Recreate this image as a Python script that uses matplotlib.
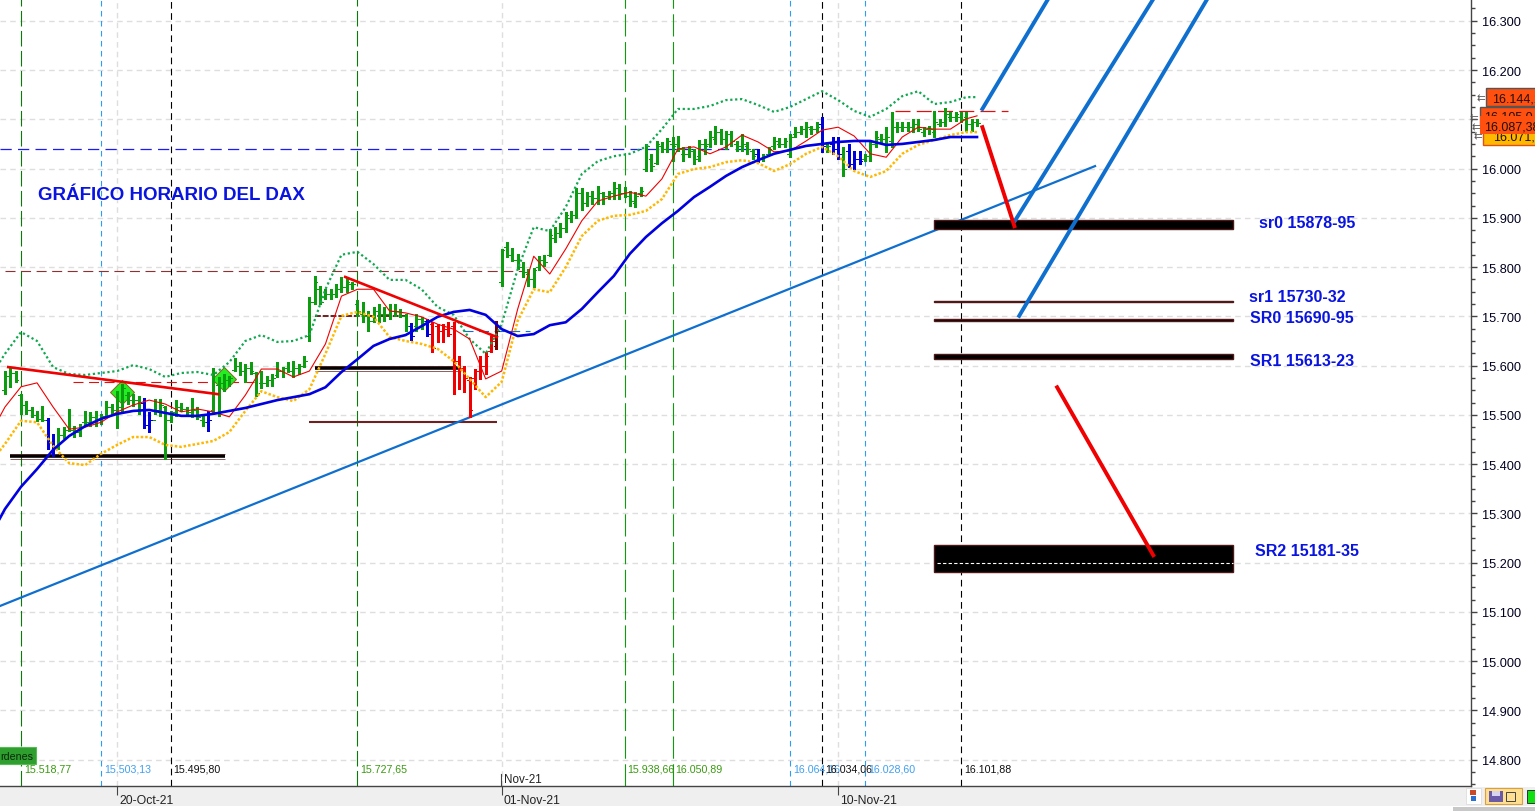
"""
DAX hourly chart with support / resistance zones
"""
import matplotlib
matplotlib.use("Agg")
import matplotlib.pyplot as plt
from matplotlib.patches import Rectangle
from matplotlib.ticker import FuncFormatter, MultipleLocator
from matplotlib.transforms import ScaledTranslation
import numpy as np

W, H_PX = 1535, 812

# hourly bars
high = [15589,15597,15589,15542,15528,15516,15508,15518,15493,15461,
        15473,15475,15512,15477,15481,15508,15506,15508,15502,15528,
        15522,15548,15562,15546,15542,15538,15534,15506,15532,15532,
        15518,15508,15530,15524,15516,15534,15516,15502,15508,15595,
        15577,15583,15579,15615,15607,15603,15607,15587,15589,15579,
        15583,15607,15597,15607,15609,15603,15619,15739,15782,15761,
        15755,15755,15765,15780,15780,15770,15733,15729,15711,15719,
        15725,15719,15725,15725,15715,15705,15686,15705,15698,15694,
        15688,15684,15684,15688,15688,15619,15599,15577,15593,15619,
        15627,15660,15690,15837,15851,15838,15826,15810,15796,15798,
        15822,15824,15877,15881,15889,15911,15913,15960,15960,15952,
        15954,15964,15952,15954,15972,15968,15962,15954,15952,15962,
        16050,16029,16056,16054,16062,16064,16066,16043,16046,16040,
        16058,16060,16076,16086,16080,16076,16076,16056,16070,16054,
        16040,16040,16029,16043,16064,16062,16062,16070,16084,16086,
        16094,16086,16094,16104,16054,16064,16064,16043,16050,16035,
        16035,16029,16054,16076,16070,16084,16115,16094,16094,16094,
        16100,16100,16084,16086,16117,16100,16123,16115,16115,16115,
        16115,16100,16100]
low = [15542,15556,15566,15502,15502,15495,15488,15488,15430,15416,
       15430,15453,15467,15455,15457,15479,15477,15477,15481,15495,
       15502,15473,15506,15522,15518,15502,15473,15465,15502,15498,
       15410,15485,15498,15508,15498,15495,15491,15477,15467,15502,
       15498,15548,15558,15589,15581,15566,15583,15538,15554,15558,
       15558,15577,15577,15587,15577,15583,15597,15650,15725,15725,
       15735,15735,15739,15749,15749,15755,15700,15688,15670,15688,
       15688,15690,15694,15700,15698,15670,15652,15670,15674,15660,
       15627,15648,15648,15660,15542,15552,15546,15495,15552,15573,
       15583,15627,15633,15761,15820,15812,15796,15780,15761,15759,
       15794,15802,15822,15851,15861,15871,15891,15899,15916,15924,
       15928,15928,15928,15938,15938,15938,15942,15924,15922,15944,
       15995,15995,16009,16033,16033,16015,16035,16015,16023,16009,
       16015,16029,16043,16050,16050,16040,16046,16035,16035,16029,
       16019,16013,16015,16029,16040,16043,16043,16023,16064,16070,
       16064,16070,16074,16033,16033,16029,16019,15985,16003,16000,
       16009,16015,16015,16043,16054,16033,16043,16074,16076,16076,
       16074,16076,16066,16070,16064,16086,16086,16096,16096,16094,
       16076,16076,16086]
opens = [15550,15578,15585,15540,15520,15510,15500,15492,15490,15445,
         15435,15460,15470,15470,15465,15485,15485,15495,15490,15498,
         15515,15510,15515,15540,15530,15530,15525,15480,15490,15510,
         15515,15490,15505,15515,15512,15505,15510,15490,15485,15510,
         15560,15565,15570,15592,15600,15590,15595,15585,15565,15565,
         15570,15580,15590,15595,15590,15595,15600,15660,15730,15755,
         15740,15745,15745,15755,15760,15765,15725,15705,15700,15690,
         15710,15705,15705,15710,15710,15700,15680,15680,15695,15690,
         15685,15680,15670,15675,15680,15610,15595,15570,15575,15590,
         15600,15630,15640,15770,15840,15825,15815,15800,15785,15775,
         15800,15815,15825,15860,15870,15880,15900,15905,15950,15930,
         15945,15940,15950,15945,15950,15960,15950,15945,15930,15950,
         16000,16020,16012,16045,16040,16050,16050,16030,16030,16035,
         16025,16050,16050,16060,16075,16060,16070,16050,16045,16045,
         16035,16030,16020,16030,16045,16050,16050,16030,16070,16075,
         16080,16080,16080,16090,16045,16050,16040,16030,16035,16010,
         16020,16020,16025,16050,16060,16050,16055,16085,16085,16085,
         16085,16090,16075,16080,16075,16090,16095,16105,16105,16105,
         16105,16090,16095]
closes = [15578,15585,15570,15520,15510,15500,15492,15490,15445,15435,
          15460,15470,15470,15465,15475,15485,15495,15490,15498,15515,
          15510,15515,15555,15530,15530,15510,15480,15490,15510,15520,
          15490,15500,15515,15512,15505,15510,15495,15485,15490,15585,
          15565,15570,15575,15600,15590,15595,15590,15545,15565,15570,
          15575,15590,15595,15590,15595,15600,15610,15730,15770,15730,
          15745,15745,15755,15760,15770,15765,15710,15700,15690,15710,
          15705,15705,15710,15710,15700,15680,15660,15695,15690,15665,
          15635,15670,15675,15665,15610,15595,15575,15510,15590,15600,
          15620,15650,15670,15835,15825,15815,15800,15790,15775,15795,
          15815,15810,15865,15870,15880,15905,15905,15950,15930,15945,
          15940,15950,15945,15950,15960,15950,15945,15935,15945,15955,
          16045,16005,16050,16040,16055,16045,16040,16030,16040,16020,
          16050,16045,16065,16075,16060,16070,16055,16045,16050,16040,
          16025,16020,16025,16040,16055,16050,16055,16065,16075,16080,
          16085,16080,16085,16045,16045,16040,16030,16000,16010,16020,
          16015,16025,16050,16065,16060,16065,16085,16085,16085,16085,
          16090,16080,16080,16080,16095,16095,16110,16105,16110,16100,
          16090,16095,16092]

blue_bars = [8, 9, 26, 27, 38, 76, 79, 141, 153, 155, 156, 158, 159, 160]
red_bars = list(range(80, 92))
dark_bars = [92]
thick_bars = [0, 1, 8, 9, 22, 26, 27, 40, 47, 57, 58, 59, 84, 87, 93, 94, 95,
              96, 99, 102, 103, 104, 105, 107, 108, 120, 121, 122, 133, 135,
              136, 153, 155, 158, 159, 176]

# indicators, one reading every third bar plus the left edge
ind_bars = [-1] + list(range(0, 181, 3)) + [182]
upper_band = [15607,15624,15668,15650,15597,15583,15581,15585,15589,15601,15593,
              15577,15585,15587,15581,15607,15650,15662,15648,15650,15662,
              15755,15825,15831,15806,15774,15774,15755,15719,15703,15654,
              15624,15684,15796,15881,15873,15922,15989,16015,16025,16030,
              16044,16080,16121,16121,16127,16139,16141,16129,16115,16125,
              16141,16157,16139,16117,16105,16121,16147,16157,16131,16135,
              16145,16145]
fast_avg = [15496,15516,15557,15565,15516,15471,15475,15485,15506,15520,15530,
            15522,15506,15512,15506,15496,15540,15593,15593,15577,15589,
            15644,15741,15755,15755,15711,15707,15699,15684,15674,15654,
            15573,15589,15715,15822,15786,15837,15894,15934,15944,15952,
            15944,15979,16040,16044,16030,16044,16068,16054,16034,16036,
            16056,16078,16084,16066,16030,16023,16064,16084,16080,16080,
            16101,16107]
lower_band = [15427,15441,15488,15485,15437,15402,15398,15421,15439,15455,15455,
              15439,15435,15441,15447,15465,15508,15548,15536,15528,15552,
              15624,15701,15709,15699,15658,15650,15644,15634,15609,15573,
              15536,15567,15691,15755,15749,15800,15863,15894,15904,15906,
              15914,15938,15989,15999,16003,16013,16017,16011,15995,16009,
              16030,16044,16025,15995,15983,15995,16030,16048,16058,16068,
              16074,16074]
slow_avg = [15289,15309,15354,15390,15429,15457,15477,15492,15502,15508,15510,
            15504,15498,15498,15502,15508,15514,15522,15530,15536,15542,
            15556,15587,15613,15640,15654,15662,15680,15699,15709,15713,
            15703,15674,15660,15664,15682,15688,15715,15749,15782,15827,
            15861,15889,15914,15942,15963,15985,16003,16017,16030,16038,
            16046,16050,16054,16056,16056,16048,16050,16054,16058,16064,
            16064,16064]

# drawn levels and trend lines: bar position and price at both ends
trend_long = [(-0.94, 204.1), (15112, 16005)]
channels = [[(183, 195.3), (16121, 16344)],
            [(189.1, 215), (15894, 16344)],
            [(189.9, 225.1), (15701, 16344)]]
red_trends = [[(0.6, 39.9), (15597, 15542)],
              [(63.7, 92.1), (15780, 15658)]]
red_arrows = [[(183, 189), (16084, 15883)],
              [(197, 215), (15556, 15215)]]
black_levels = [(0.94, 41.2, 15416), (58, 84.8, 15595)]
zones = [(15878, 15895), (15730, 15732), (15690, 15695), (15613, 15623), (15181, 15235)]
zone_bars = (174, 230)
zone_names = ["sr0 15878-95", "sr1 15730-32", "SR0 15690-95", "SR1 15613-23", "SR2 15181-35"]
zone_name_x = [1259, 1249, 1250, 1250, 1255]
zone_name_y = [223.5, 297.5, 318.5, 361.5, 551.5]

# vertical markers and their price captions
v_bars = [3, 18, 31, 66, 116, 125, 147, 153, 161, 179]
v_kinds = ["d", "b", "k", "d", "g", "g", "b", "k", "b", "k"]
v_prices = ["15.518,77", "15.503,13", "15.495,80", "15.727,65", "15.938,66",
            "16.050,89", "16.064,16", "16.034,06", "16.028,60", "16.101,88"]
signal_bars = [22, 41]
signal_prices = [15546, 15572]

date_bars = [21, 93, 156]
date_labels = ["20-Oct-21", "01-Nov-21", "10-Nov-21"]

GREEN = "#0c9c10"
plt.rcParams["font.family"] = ["Liberation Sans", "DejaVu Sans"]

fig = plt.figure(figsize=(W / 100, H_PX / 100), dpi=100)
ax = fig.add_axes([0, 1 - 787 / H_PX, 1470.5 / W, 787 / H_PX])
ax.set_xlim(-0.936, 274.4)
ax.set_ylim(14746.6, 16344.2)


def fig_rect(x0, y0, x1, y1, color, edge="none", lw=0.0, z=1):
    fig.add_artist(Rectangle((x0 / W, 1 - y1 / H_PX), (x1 - x0) / W, (y1 - y0) / H_PX,
                             transform=fig.transFigure, facecolor=color,
                             edgecolor=edge, linewidth=lw, zorder=z))


# grid
ax.set_axisbelow(True)
ax.yaxis.set_major_locator(MultipleLocator(100))
ax.yaxis.set_minor_locator(MultipleLocator(25))
ax.yaxis.set_major_formatter(FuncFormatter(lambda v, p: f"{v:,.0f}".replace(",", ".")))
ax.yaxis.tick_right()
ax.grid(axis="y", which="major", color="#dedede", lw=1, ls=(0, (4, 3)))
ax.set_xticks(date_bars)
ax.set_xticklabels(date_labels, ha="left", fontsize=8.8, color="#222222")
ax.grid(axis="x", which="major", color="#dedede", lw=1, ls=(0, (4, 3)))
ax.tick_params(axis="y", which="major", length=4.5, width=1, color="#444444",
               labelsize=9.2, pad=3.8, labelcolor="#000020")
ax.tick_params(axis="y", which="minor", length=3, width=1, color="#444444")
ax.tick_params(axis="x", length=6.5, width=0.8, color="#444444", pad=-1.0)
for lab in ax.get_xticklabels():
    lab.set_transform(lab.get_transform() + ScaledTranslation(2 / 100, 0, fig.dpi_scale_trans))
for side in ["top", "left"]:
    ax.spines[side].set_visible(False)
for side in ["right", "bottom"]:
    ax.spines[side].set_color("#444444")
    ax.spines[side].set_linewidth(1.0)

# vertical markers
v_style = {"g": ("#0f9a0f", (0, (20, 5)), 0.8), "d": ("#0a7a0a", (0, (14, 4)), 0.8),
           "b": ("#2a9df4", (0, (5, 4)), 0.8), "k": ("#000000", (0, (6, 4)), 0.8)}
v_text = {"g": "#3a9a10", "d": "#3a9a10", "b": "#3fa0f0", "k": "#101010"}
for b, k, t in zip(v_bars, v_kinds, v_prices):
    ax.axvline(b, color=v_style[k][0], lw=v_style[k][2], ls=v_style[k][1], zorder=1.5)
    ax.text(b + 0.55, 14783, t, fontsize=7.7, color=v_text[k], va="center", ha="left", zorder=6)

# dashed levels
ax.hlines(16040, -0.94, 141, color="#1a1aff", lw=0.9, ls=(0, (9, 5)), zorder=1.6)
ax.hlines(15792, 0, 97, color="#903030", lw=0.8, ls=(0, (9, 5)), zorder=1.6)
ax.hlines(15567, 12.7, 47, color="#e01010", lw=0.8, ls=(0, (9, 5)), zorder=1.6)
ax.hlines(16117, 166.7, 187.8, color="#e01010", lw=0.9, ls=(0, (12, 5)), zorder=1.6)
ax.hlines(15670, 85.8, 98.3, color="#1070d0", lw=0.8, ls=(0, (9, 5)), zorder=1.6)
ax.hlines(15700, 58, 75, color="#702020", lw=1.4, ls=(0, (3, 1)), zorder=1.6)

# long trend line and channels
ax.plot(*trend_long, color="#0f6fcf", lw=1.6, zorder=2)
for xs, ys in channels:
    ax.plot(xs, ys, color="#0f6fcf", lw=2.8, zorder=4)

# black support lines under the bars
for b0, b1, p in black_levels:
    ax.hlines(p, b0, b1, color="#000000", lw=2.6, zorder=1.8)
    ax.hlines([p + 5, p - 5], b0, b1, color="#602020", lw=0.5, zorder=1.9)
ax.hlines(15485, 56.9, 92.1, color="#702020", lw=1.5, zorder=1.8)

# buy signals sit behind the bars
ax.plot(signal_bars, signal_prices, ls="none", marker="D", ms=12, mfc="#22ee22",
        mec="#8a6020", mew=0.7, zorder=2.9)

# bars
bar_x = np.arange(len(high))
bar_colors = np.array([GREEN] * len(high), dtype=object)
bar_colors[blue_bars] = "#0000d8"
bar_colors[red_bars] = "#f00000"
bar_colors[dark_bars] = "#800000"
bar_lw = np.full(len(high), 0.85)
bar_lw[thick_bars] = 1.9
ax.vlines(bar_x, low, high, colors=list(bar_colors), linewidths=bar_lw, zorder=3, antialiased=False)
ax.hlines(opens, bar_x - 0.5, bar_x, colors=list(bar_colors), linewidths=0.72, zorder=3, antialiased=False)
ax.hlines(closes, bar_x, bar_x + 0.5, colors=list(bar_colors), linewidths=0.72, zorder=3, antialiased=False)

# indicators
ax.plot(ind_bars, upper_band, color="#10a850", lw=1.6, ls=(0, (1, 1.2)), zorder=3.2)
ax.plot(ind_bars, lower_band, color="#ffb800", lw=1.8, ls=(0, (1, 0.8)), zorder=3.2)
ax.plot(ind_bars, fast_avg, color="#f00000", lw=0.8, zorder=3.3)
ax.plot(ind_bars, slow_avg, color="#0000e0", lw=1.9, zorder=3.4)

# hand drawn red lines
for xs, ys in red_trends:
    ax.plot(xs, ys, color="#f00000", lw=1.9, zorder=4)
for xs, ys in red_arrows:
    ax.plot(xs, ys, color="#f00000", lw=2.8, zorder=5)

# support / resistance zones
for (lo, hi), name, nx, ny in zip(zones, zone_names, zone_name_x, zone_name_y):
    ax.add_patch(Rectangle((zone_bars[0], lo), zone_bars[1] - zone_bars[0], hi - lo,
                           facecolor="#000000", edgecolor="#501818", lw=1.0, zorder=3.5))
    fig.text(nx / W, 1 - ny / H_PX, name, color="#0a14e0", fontsize=11.5, fontweight="bold",
             ha="left", va="center")
ax.hlines(15200, zone_bars[0] + 0.6, zone_bars[1], color="white", lw=0.8, ls=(0, (3, 2)), zorder=3.8)

fig.text(38 / W, 1 - 196 / H_PX, "GRÁFICO HORARIO DEL DAX", color="#0a14e0", fontsize=13.5,
         fontweight="bold", ha="left", va="center")

# bottom strip
fig_rect(0, 788, W, 807, "#efefef", z=-1)
fig_rect(1453, 808, W, 812, "#c8c8c8", z=-1)
fig.add_artist(plt.Line2D([501 / W, 501 / W], [1 - 775 / H_PX, 1 - 787 / H_PX], color="#444444", lw=0.8))
fig.text(504 / W, 1 - 780 / H_PX, "Nov-21", fontsize=8.4, color="#222222", va="center", ha="left")

# orders button
fig_rect(-2, 748, 36, 765, "#2e9e2e", edge="#55bb55", lw=0.8, z=5)
fig.text(0, 1 - 757 / H_PX, "rdenes", fontsize=7.7, color="#0a2a0a", va="center", ha="left", zorder=6)

# toolbar icons
fig_rect(1466, 789, 1481, 805, "#ffffff", edge="#dddddd", lw=0.6)
fig_rect(1470, 791, 1476, 796, "#c84a2a")
fig_rect(1471, 797, 1476, 802, "#2a70d0")
fig_rect(1485, 789, 1522, 805, "#ffdf90", edge="#d8a040", lw=0.8)
fig_rect(1489, 792, 1503, 803, "#6a5aa8")
fig_rect(1492, 792, 1500, 797, "#d8d4f0")
fig_rect(1506, 793, 1515, 802, "#ffdf90", edge="#444444", lw=0.7)
fig_rect(1527, 791, W, 804, "#10e010", edge="#333333", lw=0.7)

# price tags on the axis
tag_orange = "#ff5010"
fig_rect(1486, 89, W + 2, 107, tag_orange, edge="#555555", lw=1, z=2)
fig.text(1492 / W, 1 - 99 / H_PX, "16.144,1", fontsize=9, color="#201008", va="center", zorder=2.1)
fig_rect(1483, 128, W + 2, 146, "#ffb800", edge="#e05010", lw=1, z=2)
fig.text(1493 / W, 1 - 137 / H_PX, "16.071,9", fontsize=9, color="#201008", va="center", zorder=2.1)
fig_rect(1480, 108, W + 2, 126, tag_orange, edge="#555555", lw=1, z=2.2)
fig.text(1484 / W, 1 - 117 / H_PX, "16.105,0", fontsize=9, color="#201008", va="center", zorder=2.3)
fig_rect(1480, 117, W + 2, 135, tag_orange, z=2.4)
fig.text(1484 / W, 1 - 127 / H_PX, "16.087,38", fontsize=9, color="#201008", va="center", zorder=2.5)
for ax_x, ax_y in [(1481, 98), (1474, 118), (1476, 127), (1478, 136)]:
    fig.text(ax_x / W, 1 - ax_y / H_PX, "⇇", fontsize=7.5, family="DejaVu Sans", color="#555555",
             va="center", ha="center", zorder=2.6)

fig.savefig("out.png", dpi=100)
